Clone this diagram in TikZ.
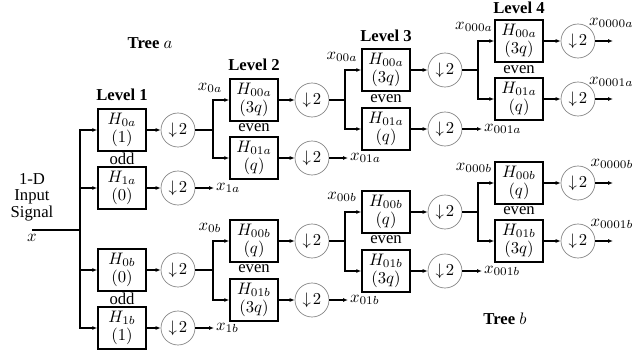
\documentclass[tikz,border=0pt]{standalone}
\usepackage{fontspec}
\setmainfont{Liberation Serif}
\usetikzlibrary{arrows.meta}
\begin{document}
\begin{tikzpicture}[x=0.6pt,y=-0.6pt,
    filt/.style={draw,line width=0.9pt,minimum width=28.8pt,minimum height=25.2pt,inner sep=1pt,align=center,font=\fontsize{10}{11}\selectfont},
    dsamp/.style={circle,draw=gray,line width=0.4pt,minimum size=20.4pt,inner sep=0pt},
    sig/.style={-{Latex[length=3pt,width=2.4pt]}},
    wire/.style={line width=0.9pt},
    lev/.style={font=\bfseries}]
        \useasboundingbox (0,0) rectangle (635,356);
        % input
        \coordinate (in) at (32,230);
        \coordinate (J1) at (80,230);
        \node[align=center,font=\fontsize{10}{10}\selectfont] (sigtxt) at (32,197) {1-D\\Input\\Signal};
        \node (xin) at (32,238) {$x$};
        \draw[wire] (in) -- (J1);
        % level 1
        \node[lev] (lev1) at (122,95) {Level 1};
        \node (treea) at (150,43) {\textbf{Tree} $a$};
        \node[filt] (H0a) at (122,130) {$H_{0a}$\\$(1)$};
        \node[filt] (H1a) at (122,188) {$H_{1a}$\\$(0)$};
        \node[filt] (H0b) at (122,270) {$H_{0b}$\\$(0)$};
        \node[filt] (H1b) at (122,328) {$H_{1b}$\\$(1)$};
        \node (odd1) at (122,159) {odd};
        \node (odd2) at (122,299) {odd};
        \node[dsamp] (D0a) at (178,130) {$\downarrow\!2$};
        \node[dsamp] (D1a) at (178,188) {$\downarrow\!2$};
        \node[dsamp] (D0b) at (178,270) {$\downarrow\!2$};
        \node[dsamp] (D1b) at (178,328) {$\downarrow\!2$};
        \draw[wire,sig] (J1) |- (H0a);
        \draw[wire,sig] (J1) |- (H1a);
        \draw[wire,sig] (J1) |- (H0b);
        \draw[wire,sig] (J1) |- (H1b);
        \draw[wire,sig] (H0a) -- (D0a);
        \draw[wire,sig] (H1a) -- (D1a);
        \draw[wire,sig] (H0b) -- (D0b);
        \draw[wire,sig] (H1b) -- (D1b);
        \coordinate (o1a) at (214,188);
        \coordinate (o1b) at (214,328);
        \draw[wire,sig] (D1a) -- (o1a);
        \draw[wire,sig] (D1b) -- (o1b);
        \node[anchor=west,inner sep=1pt] (x1a) at (o1a) {$x_{1a}$};
        \node[anchor=west,inner sep=1pt] (x1b) at (o1b) {$x_{1b}$};
        % level 2
        \node[lev] (lev2) at (254,65) {Level 2};
        \coordinate (J2a) at (213,130);
        \coordinate (J2b) at (213,270);
        \node (x0a) at (210,88) {$x_{0a}$};
        \node (x0b) at (210,228) {$x_{0b}$};
        \node[filt] (H00a) at (254,100) {$H_{00a}$\\$(3q)$};
        \node[filt] (H01a) at (254,158) {$H_{01a}$\\$(q)$};
        \node[filt] (H00b) at (254,241) {$H_{00b}$\\$(q)$};
        \node[filt] (H01b) at (254,300) {$H_{01b}$\\$(3q)$};
        \node (even2a) at (254,128) {even};
        \node (even2b) at (254,269) {even};
        \node[dsamp] (D00a) at (312,100) {$\downarrow\!2$};
        \node[dsamp] (D01a) at (312,158) {$\downarrow\!2$};
        \node[dsamp] (D00b) at (312,241) {$\downarrow\!2$};
        \node[dsamp] (D01b) at (312,300) {$\downarrow\!2$};
        \draw[wire] (D0a) -- (J2a);
        \draw[wire] (D0b) -- (J2b);
        \draw[wire,sig] (J2a) |- (H00a);
        \draw[wire,sig] (J2a) |- (H01a);
        \draw[wire,sig] (J2b) |- (H00b);
        \draw[wire,sig] (J2b) |- (H01b);
        \draw[wire,sig] (H00a) -- (D00a);
        \draw[wire,sig] (H01a) -- (D01a);
        \draw[wire,sig] (H00b) -- (D00b);
        \draw[wire,sig] (H01b) -- (D01b);
        \coordinate (o01a) at (348,158);
        \coordinate (o01b) at (348,300);
        \draw[wire,sig] (D01a) -- (o01a);
        \draw[wire,sig] (D01b) -- (o01b);
        \node[anchor=west,inner sep=1pt] (x01a) at (o01a) {$x_{01a}$};
        \node[anchor=west,inner sep=1pt] (x01b) at (o01b) {$x_{01b}$};
        % level 3
        \node[lev] (lev3) at (386,36) {Level 3};
        \coordinate (J3a) at (345,100);
        \coordinate (J3b) at (345,241);
        \node (x00a) at (342,57) {$x_{00a}$};
        \node (x00b) at (342,197) {$x_{00b}$};
        \node[filt] (H300a) at (386,70) {$H_{00a}$\\$(3q)$};
        \node[filt] (H301a) at (386,129) {$H_{01a}$\\$(q)$};
        \node[filt] (H300b) at (386,212) {$H_{00b}$\\$(q)$};
        \node[filt] (H301b) at (386,271) {$H_{01b}$\\$(3q)$};
        \node (even3a) at (386,99) {even};
        \node (even3b) at (386,240) {even};
        \node[dsamp] (D300a) at (445,70) {$\downarrow\!2$};
        \node[dsamp] (D301a) at (445,129) {$\downarrow\!2$};
        \node[dsamp] (D300b) at (445,212) {$\downarrow\!2$};
        \node[dsamp] (D301b) at (445,271) {$\downarrow\!2$};
        \draw[wire] (D00a) -- (J3a);
        \draw[wire] (D00b) -- (J3b);
        \draw[wire,sig] (J3a) |- (H300a);
        \draw[wire,sig] (J3a) |- (H301a);
        \draw[wire,sig] (J3b) |- (H300b);
        \draw[wire,sig] (J3b) |- (H301b);
        \draw[wire,sig] (H300a) -- (D300a);
        \draw[wire,sig] (H301a) -- (D301a);
        \draw[wire,sig] (H300b) -- (D300b);
        \draw[wire,sig] (H301b) -- (D301b);
        \coordinate (o001a) at (482,129);
        \coordinate (o001b) at (482,271);
        \draw[wire,sig] (D301a) -- (o001a);
        \draw[wire,sig] (D301b) -- (o001b);
        \node[anchor=west,inner sep=1pt] (x001a) at (o001a) {$x_{001a}$};
        \node[anchor=west,inner sep=1pt] (x001b) at (o001b) {$x_{001b}$};
        % level 4
        \node[lev] (lev4) at (519,8) {Level 4};
        \node (treeb) at (505,319) {\textbf{Tree} $b$};
        \coordinate (J4a) at (478,70);
        \coordinate (J4b) at (478,212);
        \node (x000a) at (474,27) {$x_{000a}$};
        \node (x000b) at (474,168) {$x_{000b}$};
        \node[filt] (H400a) at (519,41) {$H_{00a}$\\$(3q)$};
        \node[filt] (H401a) at (519,99) {$H_{01a}$\\$(q)$};
        \node[filt] (H400b) at (519,183) {$H_{00b}$\\$(q)$};
        \node[filt] (H401b) at (519,241) {$H_{01b}$\\$(3q)$};
        \node (even4a) at (519,70) {even};
        \node (even4b) at (519,211) {even};
        \node[dsamp] (D400a) at (578,41) {$\downarrow\!2$};
        \node[dsamp] (D401a) at (578,99) {$\downarrow\!2$};
        \node[dsamp] (D400b) at (578,183) {$\downarrow\!2$};
        \node[dsamp] (D401b) at (578,241) {$\downarrow\!2$};
        \draw[wire] (D300a) -- (J4a);
        \draw[wire] (D300b) -- (J4b);
        \draw[wire,sig] (J4a) |- (H400a);
        \draw[wire,sig] (J4a) |- (H401a);
        \draw[wire,sig] (J4b) |- (H400b);
        \draw[wire,sig] (J4b) |- (H401b);
        \draw[wire,sig] (H400a) -- (D400a);
        \draw[wire,sig] (H401a) -- (D401a);
        \draw[wire,sig] (H400b) -- (D400b);
        \draw[wire,sig] (H401b) -- (D401b);
        \coordinate (o0000a) at (613,41);
        \coordinate (o0001a) at (613,99);
        \coordinate (o0000b) at (613,183);
        \coordinate (o0001b) at (613,241);
        \draw[wire,sig] (D400a) -- (o0000a);
        \draw[wire,sig] (D401a) -- (o0001a);
        \draw[wire,sig] (D400b) -- (o0000b);
        \draw[wire,sig] (D401b) -- (o0001b);
        \node[anchor=east,inner sep=0.5pt] (x0000a) at (634.5,23) {$x_{0000a}$};
        \node[anchor=east,inner sep=0.5pt] (x0001a) at (634.5,82) {$x_{0001a}$};
        \node[anchor=east,inner sep=0.5pt] (x0000b) at (634.5,164) {$x_{0000b}$};
        \node[anchor=east,inner sep=0.5pt] (x0001b) at (634.5,224) {$x_{0001b}$};
\end{tikzpicture}
\end{document}
